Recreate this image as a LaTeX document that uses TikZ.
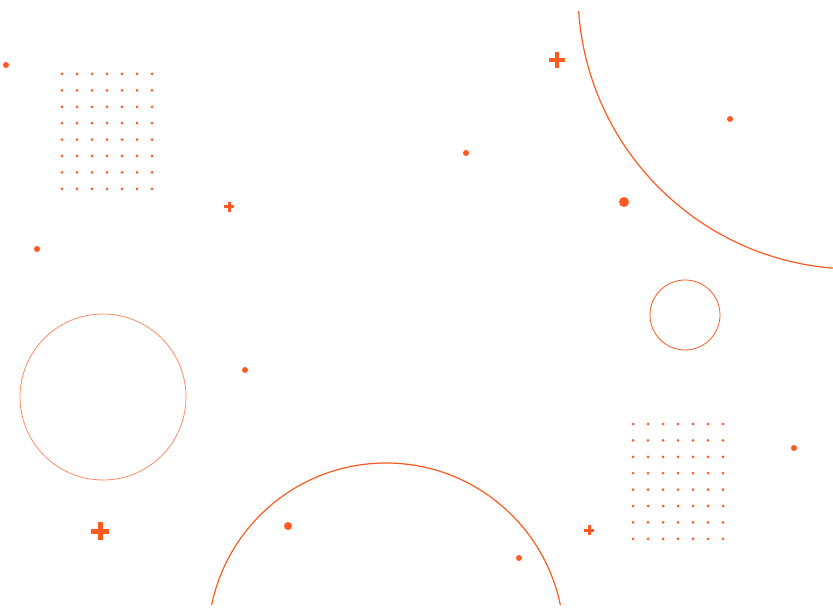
\documentclass[tikz,border=0pt]{standalone}
\begin{document}
\begin{tikzpicture}[x=1pt,y=-1pt]
\definecolor{or}{HTML}{FF5A1F}
\tikzset{dot/.style={fill=or,draw=none},plus/.style={draw=or,line cap=butt}}
\useasboundingbox (0,0) rectangle (833,612);
\fill[dot] (6,65) circle (3);
\fill[dot] (37,249) circle (3);
\fill[dot] (245,370) circle (3);
\fill[dot] (288,526) circle (4);
\fill[dot] (519,558) circle (3);
\fill[dot] (794,448) circle (3);
\fill[dot] (624,202) circle (5);
\fill[dot] (466,153) circle (3);
\fill[dot] (730,119) circle (3);
\foreach \i in {0,...,6} \foreach \j in {0,...,7} {
  \fill[dot] (62+15*\i,74+16.4*\j) circle (1.5);
  \fill[dot] (633+15*\i,424+16.4*\j) circle (1.5);
}
\draw[plus,line width=3] (224,207) -- (234,207) (229,202) -- (229,212);
\draw[plus,line width=5] (91,531) -- (109,531) (100,522) -- (100,540);
\draw[plus,line width=3] (584,530) -- (594,530) (589,525) -- (589,535);
\draw[plus,line width=4] (549,60) -- (565,60) (557,52) -- (557,68);
\draw[or!70,line width=0.8] (103,397) circle (83);
\draw[or,line width=0.8] (685,315) circle (35);
\begin{scope}
\clip (0,0) rectangle (833,604);
\draw[or,line width=1.2] (386,641) circle (178);
\end{scope}
\begin{scope}
\clip (0,12) rectangle (833,612);
\draw[or,line width=1.2] (855,-8) circle (277);
\end{scope}
\end{tikzpicture}
\end{document}
